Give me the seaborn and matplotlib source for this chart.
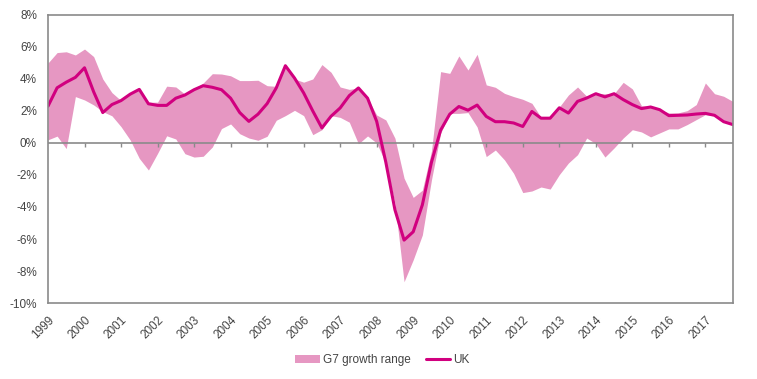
import numpy as np
import pandas as pd
import seaborn as sns
import matplotlib.pyplot as plt

# Quarterly data, 1999 Q1 - 2017 Q4
years = list(range(1999, 2018))

uk = [2.3, 3.45, 3.8, 4.1, 4.7, 3.2, 1.9, 2.4, 2.65, 3.05, 3.35, 2.45,
      2.35, 2.35, 2.8, 3.0, 3.33, 3.58, 3.48, 3.33, 2.8, 1.9, 1.35, 1.8,
      2.46, 3.44, 4.83, 4.06, 3.13, 2.0, 0.94, 1.67, 2.19, 2.96, 3.44, 2.8,
      1.35, -1.2, -4.18, -6.07, -5.55, -3.87, -1.2, 0.8, 1.8, 2.28, 2.05, 2.37,
      1.66, 1.33, 1.33, 1.25, 1.03, 1.97, 1.55, 1.55, 2.2, 1.87, 2.6, 2.81,
      3.08, 2.88, 3.08, 2.71, 2.4, 2.15, 2.25, 2.08, 1.71, 1.73, 1.75, 1.81,
      1.85, 1.73, 1.33, 1.15]

g7_high = [5.0, 5.65, 5.7, 5.5, 5.87, 5.4, 4.0, 3.15, 2.65, 3.05, 3.35, 2.55,
           2.55, 3.55, 3.5, 3.05, 3.38, 3.75, 4.33, 4.31, 4.2, 3.9, 3.9, 3.92,
           3.58, 3.54, 4.83, 4.0, 3.8, 4.0, 4.9, 4.42, 3.5, 3.35, 3.44, 2.8,
           1.75, 1.44, 0.3, -2.2, -3.4, -2.95, -0.5, 4.46, 4.35, 5.44, 4.56, 5.54,
           3.63, 3.48, 3.1, 2.9, 2.73, 2.48, 1.6, 1.6, 2.25, 3.0, 3.5, 2.92,
           3.08, 3.08, 3.08, 3.79, 3.38, 2.33, 2.29, 2.08, 1.88, 1.88, 2.02, 2.4,
           3.75, 3.08, 2.92, 2.6]

g7_low = [0.2, 0.43, -0.35, 2.9, 2.69, 2.38, 1.96, 1.7, 1.02, 0.19, -0.96, -1.69,
          -0.65, 0.45, 0.25, -0.67, -0.88, -0.83, -0.25, 0.9, 1.19, 0.58, 0.31, 0.17,
          0.42, 1.42, 1.71, 2.04, 1.71, 0.52, 0.83, 1.71, 1.6, 1.3, -0.05, 0.44,
          0.0, -1.27, -3.77, -8.67, -7.3, -5.75, -2.3, 0.6, 1.85, 1.85, 1.9, 1.0,
          -0.85, -0.44, -1.06, -1.9, -3.1, -3.0, -2.75, -2.88, -1.98, -1.25, -0.73, 0.31,
          -0.04, -0.88, -0.31, 0.31, 0.83, 0.69, 0.38, 0.63, 0.88, 0.88, 1.15, 1.46,
          1.77, 1.71, 1.33, 1.15]

df = pd.DataFrame({'q': np.arange(len(uk)), 'uk': uk, 'low': g7_low, 'high': g7_high})

band_col = '#E697C2'
line_col = '#D1007F'
grey = '#8a8a8a'

sns.set_style('white')
plt.rcParams['font.family'] = ['Liberation Sans', 'DejaVu Sans']

fig = plt.figure(figsize=(7.57, 3.79), dpi=100)
ax = fig.add_axes([0.0634, 0.2005, 0.9046, 0.76])

ax.fill_between(df['q'], df['low'], df['high'], color=band_col, lw=0,
                label='G7 growth range')
sns.lineplot(data=df, x='q', y='uk', color=line_col, lw=2.2, ax=ax, label='UK')

ax.set_xlim(0, len(uk) - 1)
ax.set_ylim(-10, 8)
ax.set_yticks(range(-10, 9, 2))
ax.set_yticklabels([f'{v}%' for v in range(-10, 9, 2)], fontsize=8.5, color='#444444')

tick_pos = [4 * k for k in range(len(years))]
ax.set_xticks(tick_pos)
ax.set_xticklabels([str(y) for y in years], rotation=45, ha='right',
                   rotation_mode='anchor', fontsize=8.5, color='#444444')
ax.tick_params(axis='x', length=0, pad=8)
ax.tick_params(axis='y', length=0, pad=8)
ax.set_xlabel('')
ax.set_ylabel('')

# zero line with small year ticks hanging below it
ax.axhline(0, color=grey, lw=1.2, zorder=1)
ax.vlines(tick_pos[1:], -0.22, 0, color=grey, lw=1.0, zorder=1)

for s in ax.spines.values():
    s.set_color(grey)
    s.set_linewidth(1.2)

ax.legend(loc='center', bbox_to_anchor=(0.505, 0.05), bbox_transform=fig.transFigure,
          ncol=2, frameon=False, fontsize=8.5, handlelength=2.1, handletextpad=0.2,
          columnspacing=1.3, labelcolor='#444444')

fig.savefig('out.png', dpi=100)
